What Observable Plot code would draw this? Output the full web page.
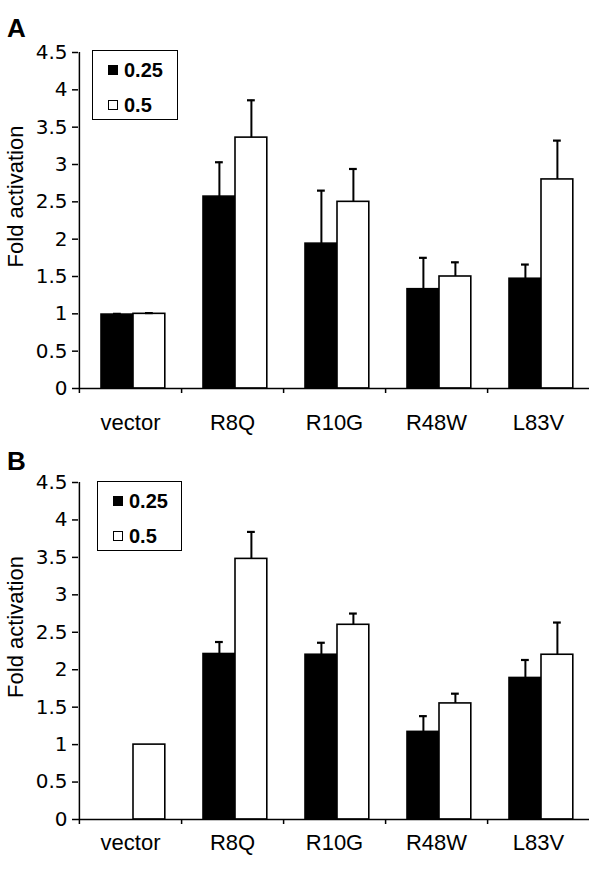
<!DOCTYPE html>
<html>
<head>
<meta charset="utf-8">
<script src="https://cdn.jsdelivr.net/npm/d3@7"></script>
<script src="https://cdn.jsdelivr.net/npm/@observablehq/plot@0.6"></script>
<style>
  html, body { margin: 0; padding: 0; background: #fff; }
  #root { position: relative; width: 600px; height: 877px; overflow: hidden; background: #fff; color: #000; }
  #root svg { position: absolute; left: 0; background: transparent; color: #000; }
  .panel-label { position: absolute; font: bold 26px "Liberation Sans", Arial, sans-serif; line-height: 1; }
  .legend-box { position: absolute; border: 1.5px solid #000; box-sizing: border-box; background: #fff; }
  .legend-sq { position: absolute; width: 10px; height: 10px; box-sizing: border-box; border: 1.5px solid #000; }
  .legend-txt { position: absolute; font: bold 20px "Liberation Sans", Arial, sans-serif; line-height: 1; }
</style>
</head>
<body>
<div id="root"></div>
<script>
// ---- data ----
const categories = ["vector", "R8Q", "R10G", "R48W", "L83V"];
const seriesLabels = ["0.25", "0.5"];
const yTicks = [0, 0.5, 1, 1.5, 2, 2.5, 3, 3.5, 4, 4.5];
const yLabel = "Fold activation";
const panelNames = ["A", "B"];

// Panel A
const aMean025 = [0.99, 2.57, 1.94, 1.33, 1.47];
const aSd025   = [0.01, 0.46, 0.71, 0.42, 0.19];
const aMean05  = [1.00, 3.36, 2.50, 1.50, 2.80];
const aSd05    = [0.01, 0.50, 0.44, 0.19, 0.52];

// Panel B
const bMean025 = [null, 2.21, 2.20, 1.17, 1.89];
const bSd025   = [null, 0.16, 0.16, 0.21, 0.24];
const bMean05  = [1.00, 3.48, 2.60, 1.55, 2.20];
const bSd05    = [0,    0.36, 0.15, 0.13, 0.43];

function rowsFrom(m1, s1, m2, s2) {
  const rows = [];
  categories.forEach((c, i) => {
    rows.push({cat: c, series: seriesLabels[0], value: m1[i], sd: s1[i]});
    rows.push({cat: c, series: seriesLabels[1], value: m2[i], sd: s2[i]});
  });
  return rows;
}

const W = 600, ML = 78, MR = 11;
const bw = (W - ML - MR) / categories.length;
const offs = {"0.25": [22, 54], "0.5": [54, 86]};
const fills = {"0.25": "#000", "0.5": "#fff"};

function panel(rows, height, marginTop, marginBottom, labelPad) {
  const marks = [];
  for (const s of seriesLabels) {
    const [l, r] = offs[s];
    const c = (l + r) / 2;
    const data = rows.filter(d => d.series === s && d.value != null);
    marks.push(Plot.barY(data, {x: "cat", y: "value", fill: fills[s], stroke: "#000", strokeWidth: 1.6,
      insetLeft: l, insetRight: bw - r}));
    const err = data.filter(d => d.sd > 0);
    marks.push(Plot.ruleX(err, {x: "cat", y1: "value", y2: d => d.value + d.sd, dx: c - bw / 2, stroke: "#000", strokeWidth: 2}));
    marks.push(Plot.tickY(err, {x: "cat", y: d => d.value + d.sd, insetLeft: c - 4, insetRight: bw - c - 4, stroke: "#000", strokeWidth: 2.2}));
  }
  marks.push(Plot.ruleY([0], {stroke: "#000", strokeWidth: 1.5}));
  marks.push(Plot.ruleX([categories[0]], {dx: -bw / 2, y1: 0, y2: 4.5, stroke: "#000", strokeWidth: 1.5}));
  marks.push(Plot.axisY({ticks: yTicks, tickFormat: d => String(d), tickSize: 6, tickPadding: 5,
    fontSize: 20, fontFamily: "DejaVu Sans, sans-serif", label: null, strokeWidth: 1.5}));
  marks.push(Plot.axisX({ticks: categories.slice(0, 4), tickFormat: () => "", tickSize: 5, dx: bw / 2, label: null, strokeWidth: 1.5}));
  marks.push(Plot.axisX({ticks: [categories[0]], tickFormat: () => "", tickSize: 5, dx: -bw / 2, label: null, strokeWidth: 1.5}));
  marks.push(Plot.axisX({tickSize: 0, tickPadding: labelPad, fontSize: 22,
    fontFamily: "Liberation Sans, Arial, sans-serif", label: null}));
  marks.push(Plot.text([yLabel], {text: d => d, frameAnchor: "left", textAnchor: "middle", rotate: -90, dx: -63, dy: -24,
    fontSize: 22, fontFamily: "Liberation Sans, Arial, sans-serif", fill: "#000"}));
  return Plot.plot({
    width: W, height, marginLeft: ML, marginRight: MR, marginTop, marginBottom,
    x: {domain: categories, padding: 0, label: null},
    y: {domain: [0, 4.5], label: null},
    style: {background: "transparent", color: "#000", overflow: "visible"},
    marks
  });
}

const root = document.getElementById("root");
const svgA = panel(rowsFrom(aMean025, aSd025, aMean05, aSd05), 430, 52, 42, 26);
svgA.style.top = "0px";
root.appendChild(svgA);
const svgB = panel(rowsFrom(bMean025, bSd025, bMean05, bSd05), 447, 52, 58, 15);
svgB.style.top = "430px";
root.appendChild(svgB);

function addDiv(cls, css, text) {
  const d = document.createElement("div");
  d.className = cls;
  Object.assign(d.style, css);
  if (text != null) d.textContent = text;
  root.appendChild(d);
  return d;
}

// panel labels
addDiv("panel-label", {left: "7px", top: "15px"}, panelNames[0]);
addDiv("panel-label", {left: "7px", top: "448px"}, panelNames[1]);

// legends
function legend(x, y, w, h) {
  addDiv("legend-box", {left: x + "px", top: y + "px", width: w + "px", height: h + "px"});
  addDiv("legend-sq", {left: (x + 16) + "px", top: (y + 15) + "px", background: fills[seriesLabels[0]]});
  addDiv("legend-txt", {left: (x + 32) + "px", top: (y + 10) + "px"}, seriesLabels[0]);
  addDiv("legend-sq", {left: (x + 16) + "px", top: (y + 50) + "px", background: fills[seriesLabels[1]]});
  addDiv("legend-txt", {left: (x + 32) + "px", top: (y + 45) + "px"}, seriesLabels[1]);
}
legend(92, 50, 86, 70);
legend(97, 481, 85, 70);
</script>
</body>
</html>
